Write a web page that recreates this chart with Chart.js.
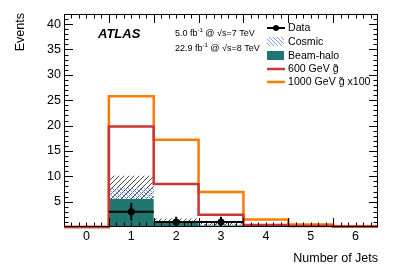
<!DOCTYPE html>
<html>
<head>
<meta charset="utf-8">
<script src="https://cdn.jsdelivr.net/npm/chart.js@4"></script>
<style>
  body { margin: 0; background: #fff; }
  #wrap { width: 399px; height: 270px; }
</style>
</head>
<body>
<div id="wrap"><canvas id="graf"></canvas></div>
<script>
// bin contents
const nJets = [0, 1, 2, 3, 4, 5, 6];
const beamHalo = [0, 5.5, 1.0, 0.3, 0, 0, 0];
const cosmic = [0, 2.2, 0.3, 0.3, 0, 0, 0];
const bkgErrTop = [0, 10.1, 1.7, 1.2, 0, 0, 0];
const glu600 = [0, 19.8, 8.5, 2.4, 0.4, 0.2, 0.1];
const glu1000 = [0, 25.8, 17.2, 6.9, 1.5, 0.5, 0.1];
const dataX = [1, 2, 3];
const dataY = [3, 1, 1];
const dataErrUp = [1.73, 1, 1];
const dataErrDown = [1.73, 1, 1];
const yTicks = [5, 10, 15, 20, 25, 30, 35, 40];

const FONT = "'Liberation Sans', Arial, sans-serif";
const TEAL = '#1f7671';
const RED = '#cc3535';
const ORANGE = '#ff7a00';
const BLUE = '#7f9ee8';

const ctx = document.getElementById('graf').getContext('2d');

function hatch(color, up, size, lw) {
  const c = document.createElement('canvas');
  c.width = c.height = size;
  const g = c.getContext('2d');
  g.strokeStyle = color;
  g.lineWidth = lw;
  g.beginPath();
  if (up) {
    g.moveTo(0, size); g.lineTo(size, 0);
    g.moveTo(-1, 1); g.lineTo(1, -1);
    g.moveTo(size - 1, size + 1); g.lineTo(size + 1, size - 1);
  } else {
    g.moveTo(0, 0); g.lineTo(size, size);
    g.moveTo(-1, size - 1); g.lineTo(1, size + 1);
    g.moveTo(size - 1, -1); g.lineTo(size + 1, 1);
  }
  g.stroke();
  return ctx.createPattern(c, 'repeat');
}

const blackHatch = hatch('#333', true, 5, 0.9);
const blueHatch = hatch(BLUE, false, 4, 1);

// histogram as stepped line: left edge of each bin, plus closing right edge
function steps(vals) {
  const pts = vals.map((v, i) => ({ x: nJets[i] - 0.5, y: v }));
  pts.push({ x: nJets[nJets.length - 1] + 0.5, y: vals[vals.length - 1] });
  return pts;
}

const stackCosmic = beamHalo.map((v, i) => v + cosmic[i]);

const errorBars = {
  id: 'errorBars',
  afterDatasetsDraw(chart) {
    const { ctx, scales: { x, y } } = chart;
    ctx.save();
    ctx.strokeStyle = '#000';
    ctx.lineWidth = 2;
    ctx.beginPath();
    dataX.forEach((bx, i) => {
      const px = x.getPixelForValue(bx);
      const py = y.getPixelForValue(dataY[i]);
      ctx.moveTo(x.getPixelForValue(bx - 0.5), py);
      ctx.lineTo(x.getPixelForValue(bx + 0.5), py);
      ctx.moveTo(px, y.getPixelForValue(dataY[i] + dataErrUp[i]));
      ctx.lineTo(px, y.getPixelForValue(Math.max(0, dataY[i] - dataErrDown[i])));
    });
    ctx.stroke();
    ctx.fillStyle = '#000';
    dataX.forEach((bx, i) => {
      ctx.beginPath();
      ctx.arc(x.getPixelForValue(bx), y.getPixelForValue(dataY[i]), 3.5, 0, Math.PI * 2);
      ctx.fill();
    });
    ctx.restore();
  },
};

const frame = {
  id: 'frame',
  afterDatasetsDraw(chart) {
    const { ctx, chartArea: a, scales: { x, y } } = chart;
    ctx.save();
    ctx.strokeStyle = '#000';
    ctx.lineWidth = 1;
    ctx.beginPath();
    for (let k = 1; k < 42; k++) {
      const py = Math.round(y.getPixelForValue(k)) + 0.5;
      const len = k % 5 === 0 ? 9 : 4.5;
      ctx.moveTo(a.left, py); ctx.lineTo(a.left + len, py);
      ctx.moveTo(a.right, py); ctx.lineTo(a.right - len, py);
    }
    for (let k = 1; k < 42; k++) {
      const px = Math.round(x.getPixelForValue(-0.5 + k / 6)) + 0.5;
      const len = k % 6 === 0 ? 9 : 4.5;
      ctx.moveTo(px, a.bottom); ctx.lineTo(px, a.bottom - len);
      ctx.moveTo(px, a.top); ctx.lineTo(px, a.top + len);
    }
    ctx.stroke();
    ctx.strokeRect(a.left + 0.5, a.top + 0.5, a.right - a.left - 1, a.bottom - a.top - 1);
    ctx.restore();
  },
  afterDraw(chart) {
    const { ctx } = chart;
    ctx.save();
    ctx.fillStyle = '#000';
    ctx.textBaseline = 'alphabetic';

    // axis titles
    ctx.font = '12.5px ' + FONT;
    ctx.textAlign = 'right';
    ctx.fillText('Number of Jets', 378, 262);
    ctx.save();
    ctx.translate(24, 13);
    ctx.rotate(-Math.PI / 2);
    ctx.fillText('Events', 0, 0);
    ctx.restore();

    // ATLAS label
    ctx.textAlign = 'left';
    ctx.font = 'italic bold 13px ' + FONT;
    ctx.fillText('ATLAS', 98, 37.5);

    // luminosity lines
    const lumi = (x0, yb, a, b) => {
      ctx.font = '9px ' + FONT;
      ctx.fillText(a, x0, yb);
      let xx = x0 + ctx.measureText(a).width;
      ctx.font = '6px ' + FONT;
      ctx.fillText('-1', xx, yb - 4);
      xx += ctx.measureText('-1').width;
      ctx.font = '9px ' + FONT;
      ctx.fillText(b, xx, yb);
    };
    lumi(175, 35.5, '5.0 fb', ' @ \u221As=7 TeV');
    lumi(175, 51, '22.9 fb', ' @ \u221As=8 TeV');

    // legend
    const tx = 288;
    ctx.lineWidth = 2;
    ctx.strokeStyle = '#000';
    ctx.beginPath(); ctx.moveTo(267, 28); ctx.lineTo(285, 28); ctx.stroke();
    ctx.beginPath(); ctx.arc(276, 28, 3, 0, Math.PI * 2); ctx.fill();
    ctx.fillStyle = blueHatch;
    ctx.fillRect(267, 37, 17, 9);
    ctx.fillStyle = TEAL;
    ctx.fillRect(267, 51, 17, 9);
    ctx.lineWidth = 2.5;
    ctx.strokeStyle = RED;
    ctx.beginPath(); ctx.moveTo(267, 69); ctx.lineTo(285, 69); ctx.stroke();
    ctx.strokeStyle = ORANGE;
    ctx.beginPath(); ctx.moveTo(267, 82); ctx.lineTo(285, 82); ctx.stroke();

    ctx.fillStyle = '#000';
    ctx.font = '10.6px ' + FONT;
    ctx.textBaseline = 'middle';
    ctx.fillText('Data', tx, 28.5);
    ctx.fillText('Cosmic', tx, 42.5);
    ctx.fillText('Beam-halo', tx, 56);
    ctx.fillText('600 GeV g\u0303', tx, 69);
    ctx.fillText('1000 GeV g\u0303 x100', tx, 82);
    ctx.restore();
  },
};

const hist = (label, vals, extra) => Object.assign({
  type: 'line',
  label,
  data: steps(vals),
  stepped: 'before',
  pointRadius: 0,
  borderWidth: 0,
  fill: false,
}, extra);

const config = {
  data: {
    datasets: [
      hist('600 GeV', glu600, { borderColor: RED, borderWidth: 2.5, order: 1, clip: 3 }),
      hist('1000 GeV x100', glu1000, { borderColor: ORANGE, borderWidth: 2.5, order: 2, clip: 3 }),
      hist('Beam-halo', beamHalo, { backgroundColor: TEAL, borderColor: 'transparent', fill: 'origin', order: 3 }),
      hist('Cosmic', stackCosmic, { backgroundColor: blueHatch, borderColor: 'transparent', fill: 2, order: 4 }),
      hist('Uncertainty', bkgErrTop, { backgroundColor: blackHatch, borderColor: 'transparent', fill: 2, order: 5 }),
    ],
  },
  options: {
    responsive: true,
    maintainAspectRatio: false,
    animation: false,
    layout: { padding: { left: 0, top: 14, right: 21, bottom: 0 } },
    plugins: { legend: { display: false }, tooltip: { enabled: false } },
    scales: {
      x: {
        type: 'linear',
        min: -0.5,
        max: 6.5,
        afterBuildTicks: (s) => { s.ticks = nJets.map((v) => ({ value: v })); },
        afterFit: (s) => { s.height = 43; },
        grid: { drawOnChartArea: false, drawTicks: false, color: 'transparent' },
        border: { display: false },
        ticks: { color: '#000', padding: 2, font: { family: FONT, size: 12.5 } },
      },
      y: {
        min: 0,
        max: 42,
        afterBuildTicks: (s) => { s.ticks = yTicks.map((v) => ({ value: v })); },
        afterFit: (s) => { s.width = 64; },
        grid: { drawOnChartArea: false, drawTicks: false, color: 'transparent' },
        border: { display: false },
        ticks: { color: '#000', padding: 3, font: { family: FONT, size: 12.5 } },
      },
    },
  },
  plugins: [errorBars, frame],
};

const myChart = new Chart(ctx, config);
</script>
</body>
</html>
